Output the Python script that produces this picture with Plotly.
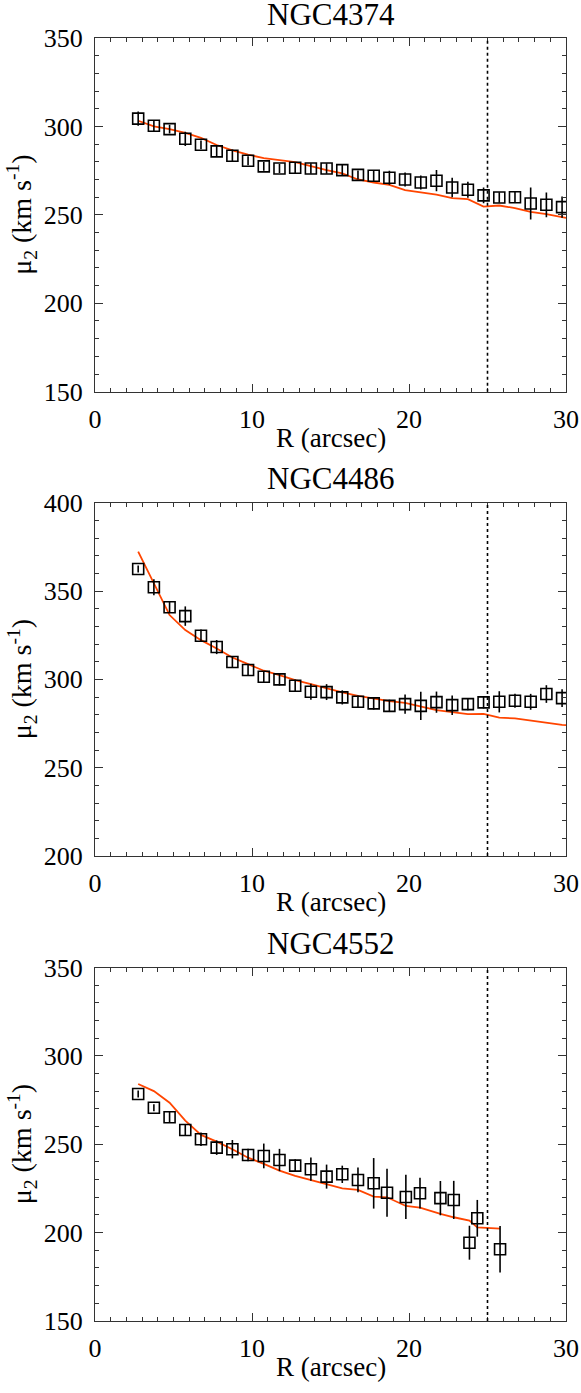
import plotly.graph_objects as go

# ---------------- data ----------------
galaxies = ["NGC4374", "NGC4486", "NGC4552"]

r_1 = [2.75 + i for i in range(28)]
mu_1 = [304.4, 300.4, 298.5, 293.0, 289.6, 285.9, 283.4, 280.6, 277.4, 276.2,
        276.6, 276.2, 276.2, 275.3, 272.6, 272.1, 271.0, 270.0, 268.3, 269.3,
        265.5, 264.2, 261.0, 259.8, 260.0, 256.4, 255.7, 254.4]
err_1 = [4, 3, 2.5, 4, 2.5, 3, 3.5, 2.5, 2.5, 2.5, 3, 3, 3, 3, 2.5, 3, 4, 4, 4,
         6, 5.5, 4.5, 4.5, 3, 3, 9, 7, 6]
model_r_1 = r_1 + [30.0]
model_1 = [303.2, 300.0, 298.5, 296.3, 293.5, 289.5, 286.5, 284.0, 282.1, 281.0,
           279.8, 277.6, 275.3, 273.5, 270.0, 268.3, 267.0, 264.0, 262.7, 261.5,
           259.5, 258.9, 254.7, 255.3, 253.8, 251.7, 250.4, 248.6, 248.3]

r_2 = [2.75 + i for i in range(28)]
mu_2 = [362.5, 352.1, 340.8, 335.8, 324.7, 318.3, 309.8, 305.3, 301.5, 300.0,
        296.4, 293.0, 292.8, 289.8, 287.3, 286.4, 285.0, 286.0, 285.0, 287.1,
        285.4, 286.0, 287.0, 287.3, 287.9, 287.3, 291.7, 289.4]
err_2 = [2, 4.5, 3, 5.5, 3.5, 4, 3, 3, 3, 3.5, 3.5, 4.5, 4.5, 4, 3.5, 3.5, 3.5,
         5.5, 8, 6, 5.5, 3.5, 3.5, 6, 4, 4.5, 5, 5]
model_r_2 = r_2 + [30.0]
model_2 = [372.3, 354.4, 336.4, 327.9, 322.2, 317.5, 312.4, 308.6, 304.9, 302.4,
           299.6, 297.3, 294.9, 292.6, 290.7, 289.2, 287.7, 286.7, 284.5, 282.6,
           281.5, 280.3, 280.5, 278.3, 277.9, 276.6, 275.5, 274.3, 274.1]

r_3 = [2.75, 3.75, 4.75, 5.75, 6.75, 7.75, 8.75, 9.75, 10.75, 11.75, 12.75,
       13.75, 14.75, 15.75, 16.75, 17.75, 18.6, 19.8, 20.7, 22.0, 22.85, 23.85,
       24.35, 25.8]
mu_3 = [278.4, 270.7, 265.3, 258.1, 252.8, 248.1, 247.2, 243.9, 243.4, 241.1,
        237.9, 235.9, 231.7, 233.0, 229.8, 227.9, 222.6, 220.2, 222.3, 219.5,
        218.5, 194.3, 208.1, 190.6]
err_3 = [2, 2, 3.2, 3, 3.8, 4.1, 5.2, 3.5, 7, 6.3, 3.6, 6.6, 6.8, 4.9, 7, 14.3,
         13.6, 12.5, 8.7, 9.7, 10.8, 9.6, 10.4, 13.2]
model_r_3 = r_3
model_3 = [284.1, 280.1, 273.5, 263.4, 255.3, 251.5, 247.2, 242.4, 238.9, 235.1,
           232.1, 229.8, 227.5, 225.1, 224.2, 220.4, 220.0, 215.1, 214.2, 210.6,
           208.7, 206.8, 203.0, 202.3]

y_ranges = [[150, 350], [200, 400], [150, 350]]
r_outer = 25.0  # dotted vertical marker

# ---------------- figure ----------------
W, H = 581, 1393
M_T, M_B, M_L, M_R = 38, 72, 95, 15
domains = [[0.7243, 1.0], [0.3624, 0.6378], [0.0, 0.2755]]

FONT = "Liberation Serif, Times New Roman, serif"
LINECOL = "#333333"

fig = go.Figure()

series = [(r_1, mu_1, err_1, model_r_1, model_1),
          (r_2, mu_2, err_2, model_r_2, model_2),
          (r_3, mu_3, err_3, model_r_3, model_3)]

for i, (r, mu, err, mr, mod) in enumerate(series):
    xa = "x" if i == 0 else f"x{i+1}"
    ya = "y" if i == 0 else f"y{i+1}"
    fig.add_trace(go.Scatter(
        x=mr, y=mod, mode="lines", xaxis=xa, yaxis=ya,
        line=dict(color="#ff4500", width=1.8), showlegend=False,
        cliponaxis=True))
    fig.add_trace(go.Scatter(
        x=r, y=mu, mode="markers", xaxis=xa, yaxis=ya,
        marker=dict(symbol="square-open", size=11,
                    color="black", line=dict(color="black", width=1.6)),
        error_y=dict(type="data", array=err, visible=True,
                     color="black", thickness=1.6, width=0),
        showlegend=False))

layout = dict(
    width=W, height=H, autosize=False,
    margin=dict(t=M_T, b=M_B, l=M_L, r=M_R, autoexpand=False),
    paper_bgcolor="white", plot_bgcolor="white",
    font=dict(family=FONT, size=26, color="black"),
    showlegend=False,
)

axis_common = dict(
    showline=True, linecolor=LINECOL, linewidth=1.2,
    mirror="allticks", ticks="inside", tickcolor=LINECOL,
    tickwidth=1.2, showgrid=False, zeroline=False, automargin=False,
    ticklabeloverflow="allow",
    tickfont=dict(family=FONT, size=26, color="black"),
)

annotations = []
shapes = []
for i in range(3):
    xk = "xaxis" if i == 0 else f"xaxis{i+1}"
    yk = "yaxis" if i == 0 else f"yaxis{i+1}"
    xa = "x" if i == 0 else f"x{i+1}"
    ya = "y" if i == 0 else f"y{i+1}"
    layout[xk] = dict(axis_common, domain=[0, 1], range=[0, 30],
                      anchor=ya, tickvals=[0, 10, 20, 30], ticklen=8,
                      minor=dict(dtick=1, ticks="inside", ticklen=4,
                                 tickcolor=LINECOL, tickwidth=1.0),
                      ticklabelstandoff=4)
    lo, hi = y_ranges[i]
    layout[yk] = dict(axis_common, domain=domains[i], range=[lo, hi],
                      anchor=xa, tickvals=list(range(lo, hi + 1, 50)),
                      ticklen=8,
                      minor=dict(dtick=10, ticks="inside", ticklen=4,
                                 tickcolor=LINECOL, tickwidth=1.0),
                      ticklabelstandoff=6)
    # panel title
    annotations.append(dict(
        text=galaxies[i], xref=f"{xa} domain", yref=f"{ya} domain",
        x=0.5, y=1, yanchor="middle", yshift=24, showarrow=False,
        font=dict(family=FONT, size=31, color="black")))
    # x title
    annotations.append(dict(
        text="R (arcsec)", xref=f"{xa} domain", yref=f"{ya} domain",
        x=0.5, y=0, yanchor="middle", yshift=-46, showarrow=False,
        font=dict(family=FONT, size=27, color="black")))
    # y title
    annotations.append(dict(
        text="\u03bc<sub>2</sub> (km s<sup>-1</sup>)",
        xref=f"{xa} domain", yref=f"{ya} domain",
        x=0, y=0.5, xanchor="center", yanchor="middle", xshift=-73,
        textangle=-90, showarrow=False,
        font=dict(family=FONT, size=28, color="black")))
    # dotted vertical line
    shapes.append(dict(
        type="line", xref=xa, yref=f"{ya} domain",
        x0=r_outer, x1=r_outer, y0=0, y1=1,
        line=dict(color="black", width=1.6, dash="dot")))

layout["annotations"] = annotations
layout["shapes"] = shapes
fig.update_layout(**layout)

# remove the browser's default 8px body margin so the figure fills the window
fig.write_html("out.html",
               config={"displayModeBar": False, "responsive": False},
               post_script="document.body.style.margin='0';"
                           "document.body.style.overflow='hidden';")
